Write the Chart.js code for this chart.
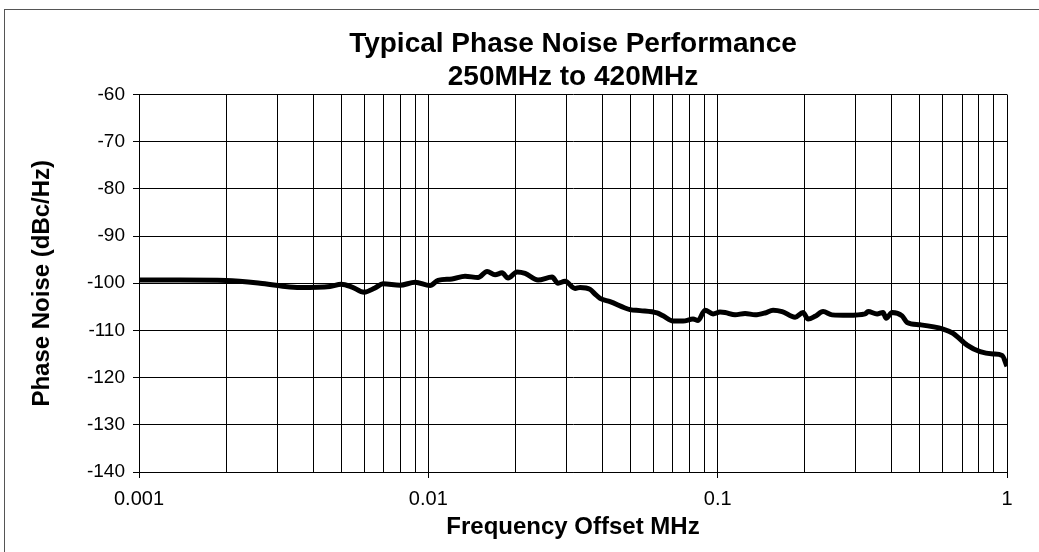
<!DOCTYPE html>
<html>
<head>
<meta charset="utf-8">
<script src="https://cdn.jsdelivr.net/npm/chart.js@4/dist/chart.umd.min.js"></script>
<style>
  html, body { margin: 0; padding: 0; background: #fff; }
  #wrap { width: 1039px; height: 552px; position: relative; }
</style>
</head>
<body>
<div id="wrap"><canvas id="c" width="1039" height="552"></canvas></div>
<script>
const titleLines = ["Typical Phase Noise Performance", "250MHz to 420MHz"];
const xTitle = "Frequency Offset MHz";
const yTitle = "Phase Noise (dBc/Hz)";

const freqMHz = [
  0.001, 0.001386, 0.0020, 0.00262, 0.0032, 0.0036, 0.00457, 0.0050, 0.00545, 0.0060,
  0.00654, 0.00697, 0.00798, 0.0090, 0.01014, 0.0108, 0.01207, 0.01339, 0.01485, 0.01596,
  0.01701, 0.01798, 0.01886, 0.02026, 0.0216, 0.02394, 0.02677, 0.02807, 0.02968, 0.03215,
  0.03345, 0.03623, 0.0377, 0.03923, 0.04247, 0.0498, 0.05393, 0.06173, 0.06476, 0.07012,
  0.07595, 0.08222, 0.08556, 0.09045, 0.0964, 0.1019, 0.1061, 0.1149, 0.1244, 0.1347,
  0.1458, 0.1554, 0.167, 0.1852, 0.1973, 0.2054, 0.2172, 0.2314, 0.2486, 0.2824,
  0.3233, 0.3311, 0.3556, 0.373, 0.3821, 0.4007, 0.4339, 0.4515, 0.5008, 0.6012,
  0.6513, 0.7279, 0.8072, 0.8954, 0.9618, 1.0
];
const phaseNoise = [
  -99.3, -99.3, -99.4, -100.0, -100.7, -100.9, -100.7, -100.2, -100.8, -101.9,
  -101.0, -100.1, -100.4, -99.8, -100.5, -99.4, -99.1, -98.5, -98.8, -97.5,
  -98.2, -97.8, -98.9, -97.6, -97.9, -99.3, -98.7, -100.0, -99.6, -101.1,
  -100.9, -101.3, -102.3, -103.2, -103.9, -105.6, -105.8, -106.3, -106.9, -108.0,
  -108.0, -107.6, -107.9, -105.7, -106.5, -106.1, -106.2, -106.7, -106.4, -106.7,
  -106.3, -105.7, -106.0, -107.2, -106.2, -107.6, -107.0, -106.0, -106.7, -106.8,
  -106.5, -106.0, -106.5, -106.2, -107.4, -106.2, -106.9, -108.3, -108.8, -109.7,
  -110.6, -113.1, -114.5, -115.0, -115.3, -117.6
];

const xDecades = [0.001, 0.01, 0.1];
const xMultipliers = [1, 2, 3, 4, 5, 6, 7, 8, 9];
const xLast = 1;
const xTickLabels = ["0.001", "0.01", "0.1", "1"];
const yMin = -140, yMax = -60, yStep = 10;

const xTickValues = [];
xDecades.forEach(d => xMultipliers.forEach(m => xTickValues.push(+(d * m).toPrecision(6))));
xTickValues.push(xLast);
const majorVals = xDecades.concat([xLast]);
const isMajor = v => majorVals.some(m => Math.abs(m - v) / m < 1e-6);

const outerBorder = {
  id: 'outerBorder',
  beforeDraw(chart) {
    const ctx = chart.ctx;
    ctx.save();
    ctx.fillStyle = '#fff';
    ctx.fillRect(0, 0, chart.width, chart.height);
    ctx.strokeStyle = '#555';
    ctx.lineWidth = 1;
    ctx.strokeRect(4.5, 9.5, 1200, 1000);
    ctx.restore();
  }
};

const FONT = "'Liberation Sans', Arial, Helvetica, sans-serif";

new Chart(document.getElementById('c'), {
  type: 'line',
  data: {
    datasets: [{
      data: freqMHz.map((f, i) => ({ x: f, y: phaseNoise[i] })),
      borderColor: '#000',
      borderWidth: 5,
      pointRadius: 0,
      fill: false,
      tension: 0.35,
      cubicInterpolationMode: 'monotone'
    }]
  },
  plugins: [outerBorder],
  options: {
    responsive: false,
    animation: false,
    devicePixelRatio: 1,
    layout: { padding: { top: 0, left: 0, right: 32, bottom: 0 } },
    plugins: {
      legend: { display: false },
      tooltip: { enabled: false },
      title: {
        display: true,
        fullSize: false,
        text: titleLines,
        color: '#000',
        font: { family: FONT, size: 28, weight: 'bold', lineHeight: 1.2 },
        padding: { top: 27, bottom: 0.3 }
      }
    },
    scales: {
      x: {
        type: 'logarithmic',
        min: 0.001,
        max: 1,
        afterBuildTicks: s => { s.ticks = xTickValues.map(v => ({ value: v, major: isMajor(v) })); },
        afterFit: s => { s.height = 80; },
        ticks: {
          autoSkip: false,
          maxRotation: 0,
          color: '#000',
          font: { family: FONT, size: 20 },
          padding: 9,
          callback: function (v) {
            const i = majorVals.findIndex(m => Math.abs(m - v) / m < 1e-6);
            return i >= 0 ? xTickLabels[i] : '';
          }
        },
        grid: {
          color: '#000',
          lineWidth: 1,
          tickLength: 6,
          tickColor: c => (c.tick && isMajor(c.tick.value)) ? '#000' : 'rgba(0,0,0,0)'
        },
        border: { color: '#000', width: 1 },
        title: {
          display: true,
          text: xTitle,
          color: '#000',
          font: { family: FONT, size: 24, weight: 'bold' },
          padding: { top: 0, bottom: 10.5 }
        }
      },
      y: {
        type: 'linear',
        min: yMin,
        max: yMax,
        afterFit: s => { s.width = 139; },
        ticks: {
          stepSize: yStep,
          color: '#000',
          font: { family: FONT, size: 19 },
          padding: 8
        },
        grid: { color: '#000', lineWidth: 1, tickLength: 6, tickColor: '#000' },
        border: { color: '#000', width: 1 },
        title: {
          display: true,
          text: yTitle,
          color: '#000',
          font: { family: FONT, size: 24, weight: 'bold' },
          padding: { top: 27.5, bottom: 0 }
        }
      }
    }
  }
});
</script>
</body>
</html>
